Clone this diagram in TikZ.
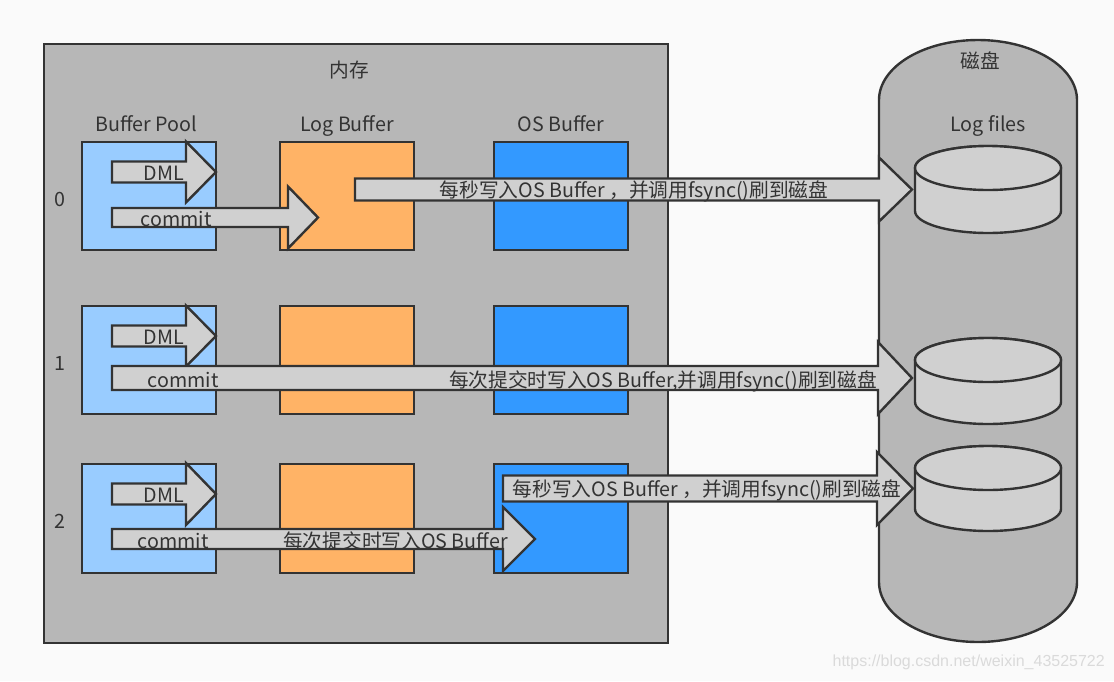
\documentclass[tikz,border=0pt]{standalone}
\usepackage{fontspec}
\setmainfont{Noto Sans CJK SC}
\newfontfamily\wmfont{Liberation Sans}
\definecolor{bgc}{HTML}{FAFAFA}
\definecolor{memc}{HTML}{B7B7B7}
\definecolor{edgec}{HTML}{333333}
\definecolor{bpc}{HTML}{99CCFF}
\definecolor{lbc}{HTML}{FFB366}
\definecolor{osc}{HTML}{3399FF}
\definecolor{arrc}{HTML}{D0D0D0}
\definecolor{txtc}{HTML}{333333}
\definecolor{wmc}{HTML}{DADADA}
% #1 left x, #2 head base x, #3 tip x, #4 centre y, #5 half shaft, #6 half head
\newcommand\blockarrow[6]{%
  \draw[arrowsty] (#1,#4-#5) -- (#2,#4-#5) -- (#2,#4-#6) -- (#3,#4) -- (#2,#4+#6) -- (#2,#4+#5) -- (#1,#4+#5) -- cycle;}
\newcommand\smallcyl[3]{% #1 centre x, #2 top centre y, #3 bottom centre y
  \draw[cylsty] (#1-73,#2) -- (#1-73,#3) arc[start angle=180,end angle=360,x radius=73pt,y radius=22pt] -- (#1+73,#2) arc[start angle=0,end angle=180,x radius=73pt,y radius=22pt] -- cycle;
  \draw[cylsty] (#1,#2) ellipse[x radius=73pt,y radius=22pt];}
\begin{document}
\begin{tikzpicture}[x=1pt,y=-1pt,
  font=\fontsize{19.7}{23}\selectfont,
  box/.style={draw=edgec,line width=2.6pt,inner sep=0pt,minimum width=134pt,minimum height=108pt},
  arrowsty/.style={draw=edgec,fill=arrc,line width=2.4pt,line join=miter},
  cylsty/.style={draw=edgec,fill=arrc,line width=2.4pt},
  lbl/.style={text=txtc,inner sep=0pt,anchor=center,text height=17pt,text depth=2pt}]
\fill[bgc] (0,0) rectangle (1114,681);
\useasboundingbox (0,0) rectangle (1114,681);
% memory
\node[draw=edgec,fill=memc,line width=2.6pt,inner sep=0pt,minimum width=624pt,minimum height=599pt] (mem) at (356,343.5) {};
\node[lbl,text=txtc] (memt) at (349,70) {内存};
% disk
\draw[cylsty,fill=memc] (879,100) arc[start angle=180,end angle=0,x radius=99pt,y radius=60pt] -- (1077,582) arc[start angle=0,end angle=-180,x radius=99pt,y radius=60pt] -- cycle;
\node[lbl] (diskt) at (980,61) {磁盘};
\node[lbl] (logf) at (988,124) {Log files};
% headers
\node[lbl] (hbp) at (146,124) {Buffer Pool};
\node[lbl] (hlb) at (347,124) {Log Buffer};
\node[lbl] (hos) at (561,124) {OS Buffer};
% row labels
\node[lbl] (r0) at (60,199) {0};
\node[lbl] (r1) at (60,363) {1};
\node[lbl] (r2) at (60,521) {2};
% boxes
\foreach \r/\y/\h in {0/196/108,1/360/108,2/518.5/109}{
  \node[box,fill=bpc,minimum height=\h pt] (bp\r) at (149,\y) {};
  \node[box,fill=lbc,minimum height=\h pt] (lb\r) at (347,\y) {};
  \node[box,fill=osc,minimum height=\h pt] (os\r) at (561,\y) {};
}
% row 0
\blockarrow{112}{186}{216}{172}{10.5}{30.5}
\node[lbl] (dml0) at (164,173) {DML};
\blockarrow{112}{288}{318}{217.5}{9.5}{31}
\node[lbl] (com0) at (176,219) {commit};
\blockarrow{355}{879}{912}{189.5}{11}{32}
\node[lbl] (t0) at (634,190) {每秒写入OS Buffer ，并调用fsync()刷到磁盘};
% row 1
\blockarrow{112}{186}{216}{336}{10.5}{30.5}
\node[lbl] (dml1) at (164,337) {DML};
\blockarrow{112}{878}{912}{378}{12}{36}
\node[lbl] (com1) at (183,380) {commit};
\node[lbl] (t1) at (663,380) {每次提交时写入OS Buffer,并调用fsync()刷到磁盘};
% row 2
\blockarrow{112}{186}{216}{494}{10.5}{31}
\node[lbl] (dml2) at (164,495) {DML};
\blockarrow{112}{503}{535}{539}{10}{32}
\node[lbl] (com2) at (173,541) {commit};
\node[lbl] (t2a) at (395.5,541) {每次提交时写入OS Buffer};
\blockarrow{503}{877}{913}{488.5}{13}{36.5}
\node[lbl] (t2b) at (707,489) {每秒写入OS Buffer ，并调用fsync()刷到磁盘};
% log files
\smallcyl{988}{168}{211}
\smallcyl{988}{360}{402}
\smallcyl{988}{468}{509}
% watermark
\node[inner sep=0pt,anchor=east,text=wmc,font=\wmfont\fontsize{16}{18}\selectfont] (wm) at (1105,662) {https://blog.csdn.net/weixin\_43525722};
\end{tikzpicture}
\end{document}
